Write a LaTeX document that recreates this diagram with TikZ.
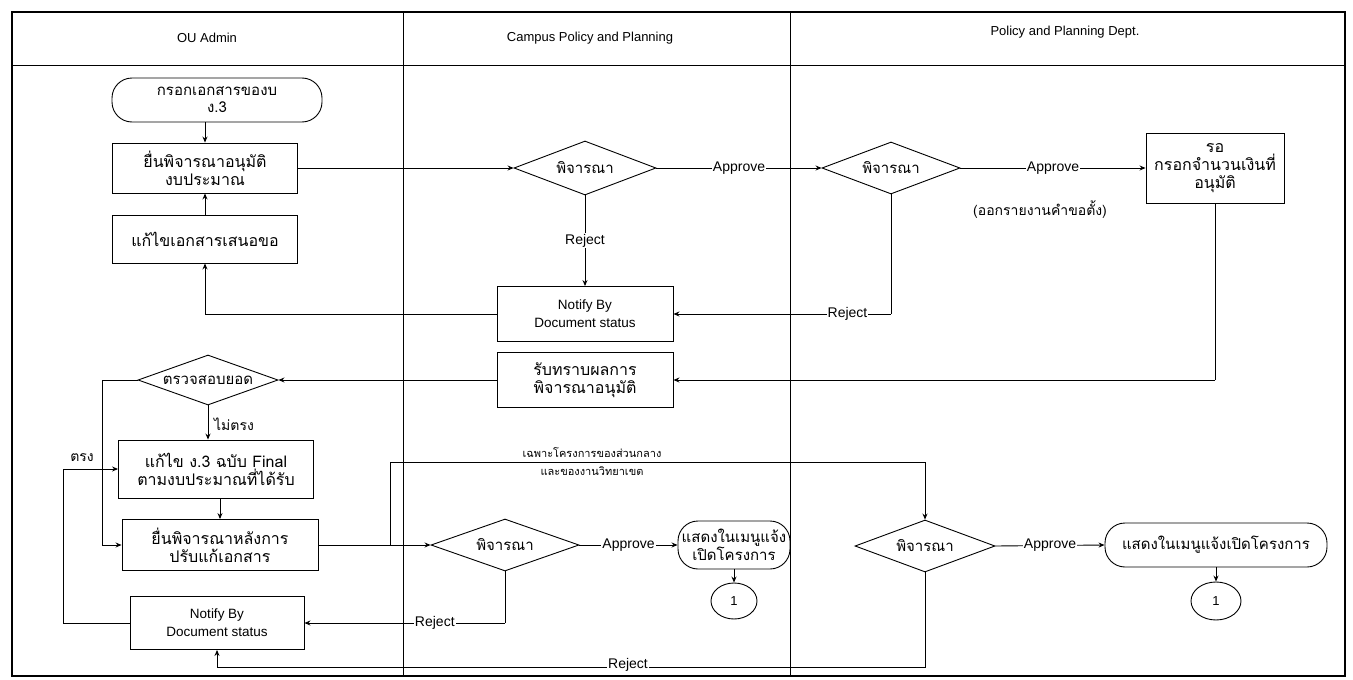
\documentclass[tikz,border=0pt]{standalone}
\usepackage{fontspec}
\setmainfont{Liberation Sans}
\newfontfamily\thai[Script=Thai]{Loma}
\usetikzlibrary{shapes.geometric,arrows.meta}
\tikzset{
  base/.style={draw, line width=0.9pt, align=center, inner sep=2pt},
  procbox/.style={base, rectangle, font=\thai\fontsize{16}{18}\selectfont},
  notebox/.style={base, rectangle, font=\fontsize{13.5}{18}\selectfont},
  decide/.style={base, diamond, aspect=3, inner sep=0pt, font=\thai\fontsize{15}{17}\selectfont},
  term/.style={base, rectangle, rounded corners=20pt, font=\thai\fontsize{15}{17}\selectfont},
  conn/.style={base, ellipse, font=\fontsize{13}{15}\selectfont},
  flow/.style={line width=0.9pt, -{Stealth[length=6pt,width=5pt]}},
  line/.style={line width=0.9pt},
  lbl/.style={fill=white, inner sep=1pt, font=\fontsize{14}{16}\selectfont},
  tlbl/.style={inner sep=1pt, font=\thai\fontsize{14}{16}\selectfont},
  hdr/.style={font=\fontsize{13}{15}\selectfont}
}
\begin{document}
\begin{tikzpicture}[x=1pt,y=-1pt]
\useasboundingbox (0,0) rectangle (1353,680);
\fill[white] (0,0) rectangle (1353,680);
% frame and lanes
\draw[line width=1.2pt] (12,12) rectangle (1345,676);
\draw[line width=1pt] (12,65) -- (1345,65);
\draw[line width=1pt] (403,12) -- (403,676);
\draw[line width=1pt] (790,12) -- (790,676);
\node[hdr] (h1) at (207,38) {OU Admin};
\node[hdr] (h2) at (590,38) {Campus Policy and Planning};
\node[hdr] (h3) at (1065,32) {Policy and Planning Dept.};

% OU Admin lane
\node[term, minimum width=210pt, minimum height=44pt] (start) at (217,100) {กรอกเอกสารของบ\\ง.3};
\node[procbox, minimum width=185pt, minimum height=50pt] (A) at (205,168) {ยื่นพิจารณาอนุมัติ\\งบประมาณ};
\node[procbox, minimum width=185pt, minimum height=48pt] (B) at (205,239) {แก้ไขเอกสารเสนอขอ};
\node[decide, minimum width=140pt, minimum height=50pt] (D3) at (208,380) {ตรวจสอบยอด};
\node[procbox, minimum width=195pt, minimum height=58pt] (E) at (216,469) {แก้ไข ง.3 ฉบับ Final\\ตามงบประมาณที่ได้รับ};
\node[procbox, minimum width=196pt, minimum height=51pt] (F) at (220,545) {ยื่นพิจารณาหลังการ\\ปรับแก้เอกสาร};
\node[notebox, minimum width=174pt, minimum height=53pt] (N2) at (217,623) {Notify By\\Document status};

% Campus lane
\node[decide, minimum width=142pt, minimum height=54pt] (D1) at (585,168) {พิจารณา};
\node[notebox, minimum width=176pt, minimum height=55pt] (N1) at (585,314) {Notify By\\Document status};
\node[procbox, minimum width=176pt, minimum height=55pt] (R) at (585,380) {รับทราบผลการ\\พิจารณาอนุมัติ};
\node[decide, minimum width=148pt, minimum height=52pt] (D4) at (505,545) {พิจารณา};
\node[term, minimum width=112pt, minimum height=48pt] (T1) at (734,545) {แสดงในเมนูแจ้ง\\เปิดโครงการ};
\node[conn, minimum width=46pt, minimum height=36pt] (C1) at (734,601) {1};

% Policy lane
\node[decide, minimum width=138pt, minimum height=52pt] (D2) at (891,168) {พิจารณา};
\node[procbox, minimum width=138pt, minimum height=70pt] (C) at (1215,168) {รอ\\กรอกจำนวนเงินที่\\อนุมัติ};
\node[tlbl] (note) at (1040,210) {(ออกรายงานคำขอตั้ง)};
\node[decide, minimum width=140pt, minimum height=52pt] (D5) at (925,546) {พิจารณา};
\node[term, minimum width=222pt, minimum height=44pt] (T2) at (1216,545) {แสดงในเมนูแจ้งเปิดโครงการ};
\node[conn, minimum width=50pt, minimum height=38pt] (C2) at (1216,601) {1};

% connectors
\draw[flow] (start.south -| A.north) -- (A.north);
\draw[flow] (B.north) -- (A.south);
\draw[flow] (A.east) -- (D1.west);
\draw[flow] (D1.east) -- node[lbl] {Approve} (D2.west);
\draw[flow] (D2.east) -- node[lbl] {Approve} (C.west);
\draw[flow] (D1.south) -- node[lbl, pos=0.5] {Reject} (N1.north);
\coordinate (d2r) at (D2.south |- N1.east);
\draw[line] (D2.south) -- (d2r);
\draw[flow] (d2r) -- node[lbl, pos=0.2] {Reject} (N1.east);
\coordinate (n1l) at (B.south |- N1.west);
\draw[line] (N1.west) -- (n1l);
\draw[flow] (n1l) -- (B.south);
\coordinate (cdn) at (C.south |- R.east);
\draw[line] (C.south) -- (cdn);
\draw[flow] (cdn) -- (R.east);
\draw[flow] (R.west) -- (D3.east);
\draw[flow] (D3.south) -- (D3.south |- E.north);
\node[tlbl, anchor=west] (nm) at (213,424) {ไม่ตรง};
\coordinate (d3a) at (102,380);
\coordinate (d3b) at (102,545);
\draw[line] (D3.west) -- (d3a) -- (d3b);
\draw[flow] (d3b) -- (F.west);
\node[tlbl] (tr) at (82,458) {ตรง};
\draw[flow] (F.north |- E.south) -- (F.north);
\coordinate (n2a) at (63,623);
\coordinate (n2b) at (63,469);
\draw[line] (N2.west) -- (n2a) -- (n2b);
\draw[flow] (n2b) -- (E.west);
% F to D4 and D5
\coordinate (fj) at (390,545);
\coordinate (fu) at (390,462);
\coordinate (fr) at (D5.north |- fu);
\draw[line] (F.east) -- (fj);
\draw[flow] (fj) -- (D4.west);
\draw[line] (fj) -- (fu) -- (fr);
\draw[flow] (fr) -- (D5.north);
\node[inner sep=0pt, font=\thai\fontsize{11}{12}\selectfont] (rt1) at (592,453) {เฉพาะโครงการของส่วนกลาง};
\node[inner sep=0pt, font=\thai\fontsize{11}{12}\selectfont] (rt2) at (592,471) {และของงานวิทยาเขต};
\draw[flow] (D4.east) -- node[lbl] {Approve} (T1.west);
\draw[flow] (T1.south) -- (C1.north);
\coordinate (d4d) at (D4.south |- N2.east);
\draw[line] (D4.south) -- (d4d);
\draw[flow] (d4d) -- node[lbl, pos=0.35] {Reject} (N2.east);
\draw[flow] (D5.east) -- node[lbl] {Approve} (T2.west);
\draw[flow] (T2.south) -- (C2.north);
\coordinate (d5a) at (925,667);
\coordinate (d5b) at (217,667);
\draw[line] (D5.south) -- (d5a) -- (d5b);
\draw[flow] (d5b) -- (N2.south);
\node[lbl] (rj) at (628,665) {Reject};
\end{tikzpicture}
\end{document}
